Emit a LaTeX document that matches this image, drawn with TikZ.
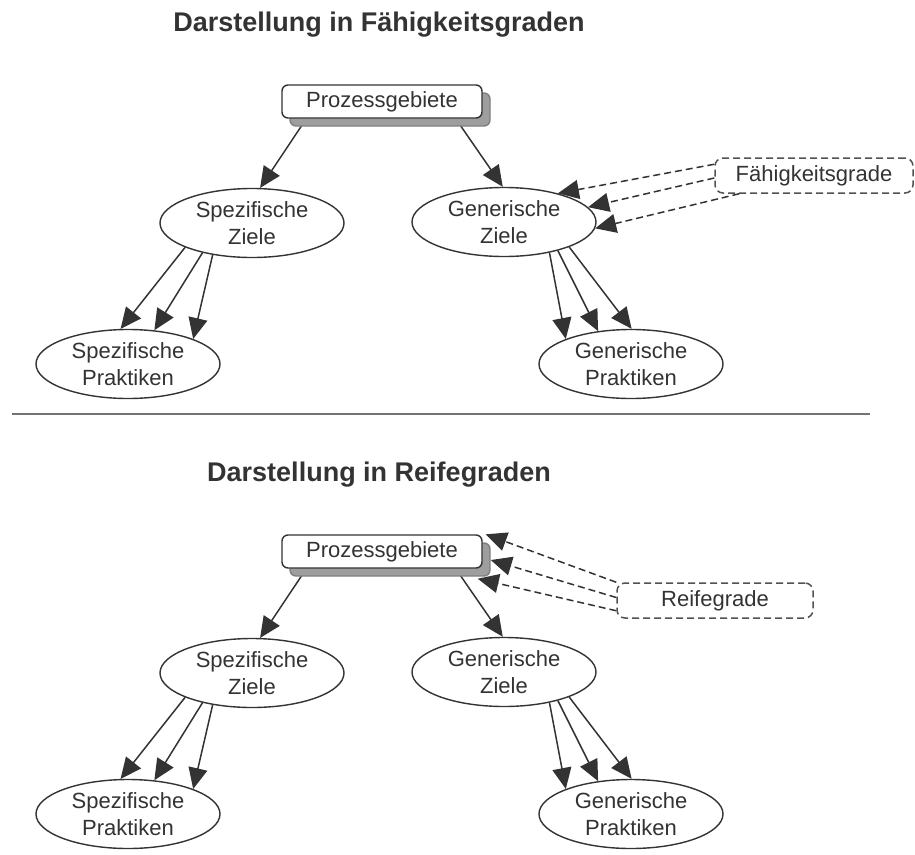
\documentclass[tikz,border=0pt]{standalone}
\usepackage{fontspec}
\setmainfont{Liberation Sans}
\usetikzlibrary{arrows.meta,shapes.geometric,shadows,calc,backgrounds}
\definecolor{ink}{HTML}{333333}
\begin{document}
\begin{tikzpicture}[x=1pt,y=-1pt,
  lbl/.style={font=\fontsize{22}{27}\selectfont, text=ink, align=center},
  areabox/.style={lbl, draw=ink, line width=1.4pt, rounded corners=6pt, fill=white,
    minimum width=200pt, minimum height=33pt, inner sep=0pt,
    drop shadow={shadow xshift=8pt, shadow yshift=-8pt, fill=black!38, draw=black!50, opacity=1}},
  goal/.style={lbl, ellipse, draw=ink, line width=1.4pt, fill=white, inner sep=0pt,
    minimum width=184pt, minimum height=69pt},
  levelbox/.style={lbl, draw=ink!85, dash pattern=on 7pt off 4pt, line width=1.5pt,
    rounded corners=8pt, inner sep=0pt, minimum height=35pt},
  link/.style={draw=ink, line width=1.5pt, -{Triangle[length=21pt,width=19pt]}},
  dlink/.style={link, dash pattern=on 7pt off 4pt},
  heading/.style={font=\fontsize{27}{30}\selectfont\bfseries, text=ink}
]
\useasboundingbox (0,0) rectangle (915,854);

% ---------- capability levels ----------
\node[heading] (t1) at (379,25) {Darstellung in Fähigkeitsgraden};
\node[areabox] (pz1) at (382,101.5) {Prozessgebiete};
\node[goal] (sz1) at (252,223) {Spezifische\\Ziele};
\node[goal] (gz1) at (504,222) {Generische\\Ziele};
\node[goal] (sp1) at (128,364) {Spezifische\\Praktiken};
\node[goal] (gp1) at (631,364) {Generische\\Praktiken};
\node[levelbox, minimum width=198pt] (fg) at (814,175.5) {Fähigkeitsgrade};

\begin{scope}[on background layer]
  \draw[link] ($(pz1.south west)+(25,0)$) -- (sz1.77);
  \draw[link] ($(pz1.south east)+(-27,0)$) -- (gz1.92);
  \draw[link] (sz1.200.5) -- (sp1.102);
  \draw[link] (sz1.211) -- (sp1.52);
  \draw[link] (sz1.219.5) -- (sp1.21);
  \draw[link] (gz1.326) -- (gp1.159);
  \draw[link] (gz1.332) -- (gp1.135);
  \draw[link] (gz1.339) -- (gp1.89);
\end{scope}
\draw[dlink] ($(fg.north west)+(0,7)$) -- (gz1.28);
\draw[dlink] ($(fg.west)+(0,2.5)$) -- (gz1.10);
\draw[dlink] ($(fg.south west)+(25,0)$) -- (gz1.356);

% ---------- separator ----------
\coordinate (d1) at (12,414);
\coordinate (d2) at (870,414);
\draw[draw=black!55, line width=1.5pt] (d1) -- (d2);

% ---------- maturity levels ----------
\node[heading] (t2) at (379,475) {Darstellung in Reifegraden};
\node[areabox] (pz2) at (382,551.5) {Prozessgebiete};
\node[goal] (sz2) at (252,673) {Spezifische\\Ziele};
\node[goal] (gz2) at (504,672) {Generische\\Ziele};
\node[goal] (sp2) at (128,814) {Spezifische\\Praktiken};
\node[goal] (gp2) at (631,814) {Generische\\Praktiken};
\node[levelbox, minimum width=196pt] (rg) at (715,600.5) {Reifegrade};

\begin{scope}[on background layer]
  \draw[link] ($(pz2.south west)+(25,0)$) -- (sz2.77);
  \draw[link] ($(pz2.south east)+(-27,0)$) -- (gz2.92);
  \draw[link] (sz2.200.5) -- (sp2.102);
  \draw[link] (sz2.211) -- (sp2.52);
  \draw[link] (sz2.219.5) -- (sp2.21);
  \draw[link] (gz2.326) -- (gp2.159);
  \draw[link] (gz2.332) -- (gp2.135);
  \draw[link] (gz2.339) -- (gp2.89);
\end{scope}
\draw[dlink] (rg.north west) -- ($(pz2.north east)+(3,0)$);
\draw[dlink] ($(rg.west)+(0,-3)$) -- ($(pz2.east)+(8,8.5)$);
\draw[dlink] ($(rg.south west)+(0,-8)$) -- ($(pz2.south east)+(-5,10)$);
\end{tikzpicture}
\end{document}
